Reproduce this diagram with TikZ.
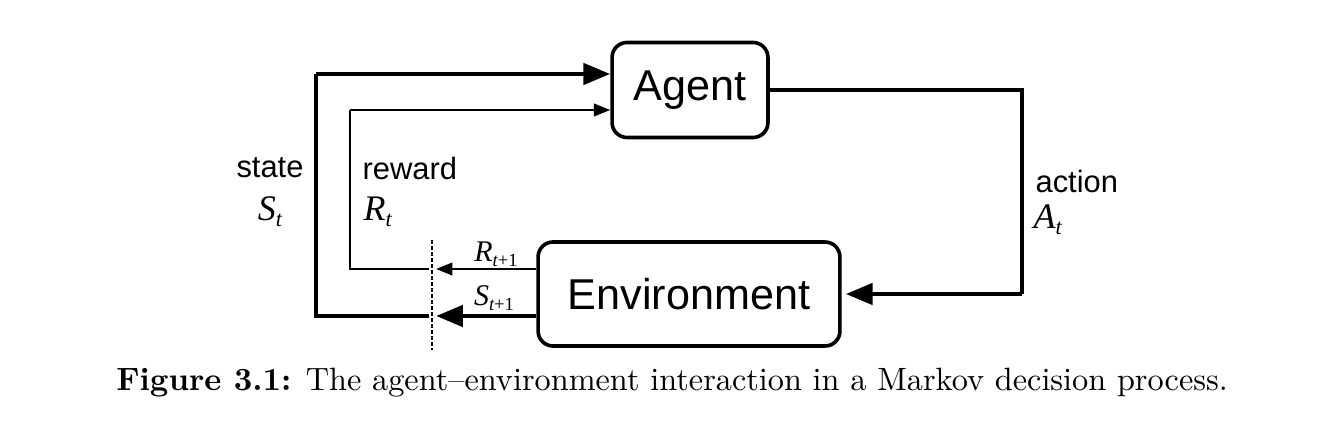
\documentclass[tikz,border=0pt]{standalone}
\usepackage{fontspec}
\setsansfont{Liberation Sans}
\newfontfamily\timesfont{Liberation Serif}
\usetikzlibrary{arrows.meta, positioning, shadows, calc}

% italic variable with a lowered index, as in the figure
\newcommand{\mdpvar}[3][12]{{\timesfont\fontsize{#1}{#1}\selectfont\itshape #2\raisebox{-0.35ex}{\fontsize{0.62\dimexpr#1pt\relax}{1}\selectfont #3}}}

\begin{document}
\begin{tikzpicture}[x=0.3336pt, y=-0.3336pt,
    box/.style={draw, line width=1.2pt, rounded corners=5pt, fill=white,
                font=\sffamily\fontsize{14.4}{16}\selectfont,
                drop shadow={opacity=0.2, shadow xshift=0.6pt, shadow yshift=-0.6pt}},
    bigflow/.style={line width=1.6pt, -{Triangle[length=9pt, width=7pt]}},
    bigline/.style={line width=1.6pt},
    smallflow/.style={line width=0.8pt, -{Triangle[length=5.5pt, width=4.2pt]}},
    smallline/.style={line width=0.8pt},
    lbl/.style={font=\sffamily\fontsize{10.3}{12}\selectfont, inner sep=0pt}]
    \useasboundingbox (0,0) rectangle (1343,439);

    % the two boxes
    \node[box, minimum width=52pt, minimum height=31.7pt] (agent) at (690,90) {Agent};
    \node[box, minimum width=100.7pt, minimum height=34.7pt] (env) at (689,294) {Environment};

    % levels and columns of the loops
    \coordinate (cut) at (432,0);
    \coordinate (sx) at (316,0);
    \coordinate (rx) at (350,0);
    \coordinate (ax) at (1022,0);
    \coordinate (slev) at ($(env.west)+(0,22)$);
    \coordinate (rlev) at ($(env.west)+(0,-25)$);
    \coordinate (salev) at ($(agent.west)+(0,-16)$);
    \coordinate (ralev) at ($(agent.west)+(0,20)$);

    % time step boundary
    \draw[line width=0.5pt, dash pattern=on 1.2pt off 0.8pt] (cut |- env.north) -- ($(cut |- env.south)+(0,2)$);

    % state
    \draw[bigflow] (slev) -- ($(slev -| cut)+(4,0)$);
    \draw[bigline] ($(slev -| cut)+(-3,0)$) -| (salev -| sx);
    \draw[bigflow] (salev -| sx) -- (salev);
    % reward
    \draw[smallflow] (rlev) -- ($(rlev -| cut)+(4,0)$);
    \draw[smallline] ($(rlev -| cut)+(-3,0)$) -| (ralev -| rx);
    \draw[smallflow] (ralev -| rx) -- (ralev);
    % action
    \draw[bigline] (agent.east) -| (ax |- env.east);
    \draw[bigflow] (ax |- env.east) -- ($(env.east)+(4,0)$);

    % labels
    \node[lbl] (statelbl) at (270,168) {state};
    \node (statevar) at (270,212) {\mdpvar{S}{t}};
    \node[lbl, anchor=west] (rewardlbl) at (362,168) {reward};
    \node[anchor=west, inner sep=0pt] (rewardvar) at (363,212) {\mdpvar{R}{t}};
    \node[lbl, anchor=west] (actionlbl) at (1035,181) {action};
    \node[anchor=west, inner sep=0pt] (actionvar) at (1033,220) {\mdpvar{A}{t}};
    \node (rnext) at (496,254) {\mdpvar[10]{R}{t{\upshape+1}}};
    \node (snext) at (494,298) {\mdpvar[10]{S}{t{\upshape+1}}};

    % caption
    \node[font=\fontsize{10.77}{13}\selectfont] (caption) at (672,383) {\textbf{Figure 3.1:} The agent--environment interaction in a Markov decision process.};
\end{tikzpicture}
\end{document}
